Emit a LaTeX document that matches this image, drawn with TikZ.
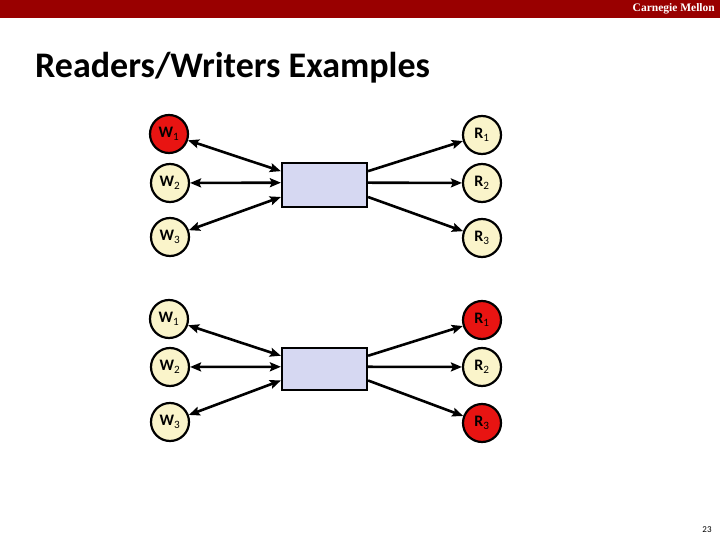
\documentclass[tikz,border=0pt]{standalone}
\usepackage{fontspec}
\setmainfont{Carlito}
\newfontfamily\cmufont{Liberation Serif}
\usetikzlibrary{calc,positioning,arrows.meta}
\definecolor{cmured}{RGB}{153,0,0}
\definecolor{rwfill}{RGB}{250,244,202}
\definecolor{hotfill}{RGB}{232,20,18}
\definecolor{buffill}{RGB}{214,216,242}
\begin{document}
\begin{tikzpicture}[x=1pt,y=-1pt,>={Stealth[length=11pt,width=9pt,inset=2pt]}]
\tikzstyle{thr}=[circle, draw, line width=2.2pt, fill=rwfill, minimum size=38pt, inner sep=0pt, font=\bfseries\fontsize{16}{16}\selectfont]
\tikzstyle{busy}=[thr, fill=hotfill]
\tikzstyle{bufbox}=[draw, line width=2.2pt, fill=buffill, minimum width=85pt, minimum height=44pt]
\tikzstyle{link}=[line width=2.6pt]
\useasboundingbox (0,0) rectangle (720,540);
\fill[cmured] (0,0) rectangle (720,18);
\node[anchor=east, text=white, inner sep=0pt, font=\cmufont\bfseries\fontsize{11.5}{11.5}\selectfont] (cmu) at (715,9) {Carnegie Mellon};
\node[anchor=base west, inner sep=0pt, font=\bfseries\fontsize{36}{36}\selectfont] (title) at (35,78) {Readers/Writers Examples};
% one writer in the buffer
\node[busy] (tw1) at (169,134) {W\textsubscript{\mdseries 1}};
\node[thr]  (tw2) at (170,183) {W\textsubscript{\mdseries 2}};
\node[thr]  (tw3) at (170,237) {W\textsubscript{\mdseries 3}};
\node[thr]  (tr1) at (482,135) {R\textsubscript{\mdseries 1}};
\node[thr]  (tr2) at (482,183) {R\textsubscript{\mdseries 2}};
\node[thr]  (tr3) at (482,238) {R\textsubscript{\mdseries 3}};
\node[bufbox] (tbuf) at (324.5,185) {};
% readers in the buffer
\node[thr]  (bw1) at (169,319) {W\textsubscript{\mdseries 1}};
\node[thr]  (bw2) at (170,367) {W\textsubscript{\mdseries 2}};
\node[thr]  (bw3) at (170,422) {W\textsubscript{\mdseries 3}};
\node[busy] (br1) at (482,320) {R\textsubscript{\mdseries 1}};
\node[thr]  (br2) at (482,367) {R\textsubscript{\mdseries 2}};
\node[busy] (br3) at (482,423) {R\textsubscript{\mdseries 3}};
\node[bufbox, minimum height=42pt] (bbuf) at (324.5,369) {};
\foreach \g in {t,b}{
  \foreach \i/\f in {1/0.2,2/0.45,3/0.76}{
    \draw[link,<->] (\g w\i) -- ($(\g buf.north west)!\f!(\g buf.south west)$);
    \draw[link,->] ($(\g buf.north east)!\f!(\g buf.south east)$) -- (\g r\i);
  }
}
\node[font=\fontsize{9}{9}\selectfont] (page) at (707,530) {23};
\end{tikzpicture}
\end{document}
